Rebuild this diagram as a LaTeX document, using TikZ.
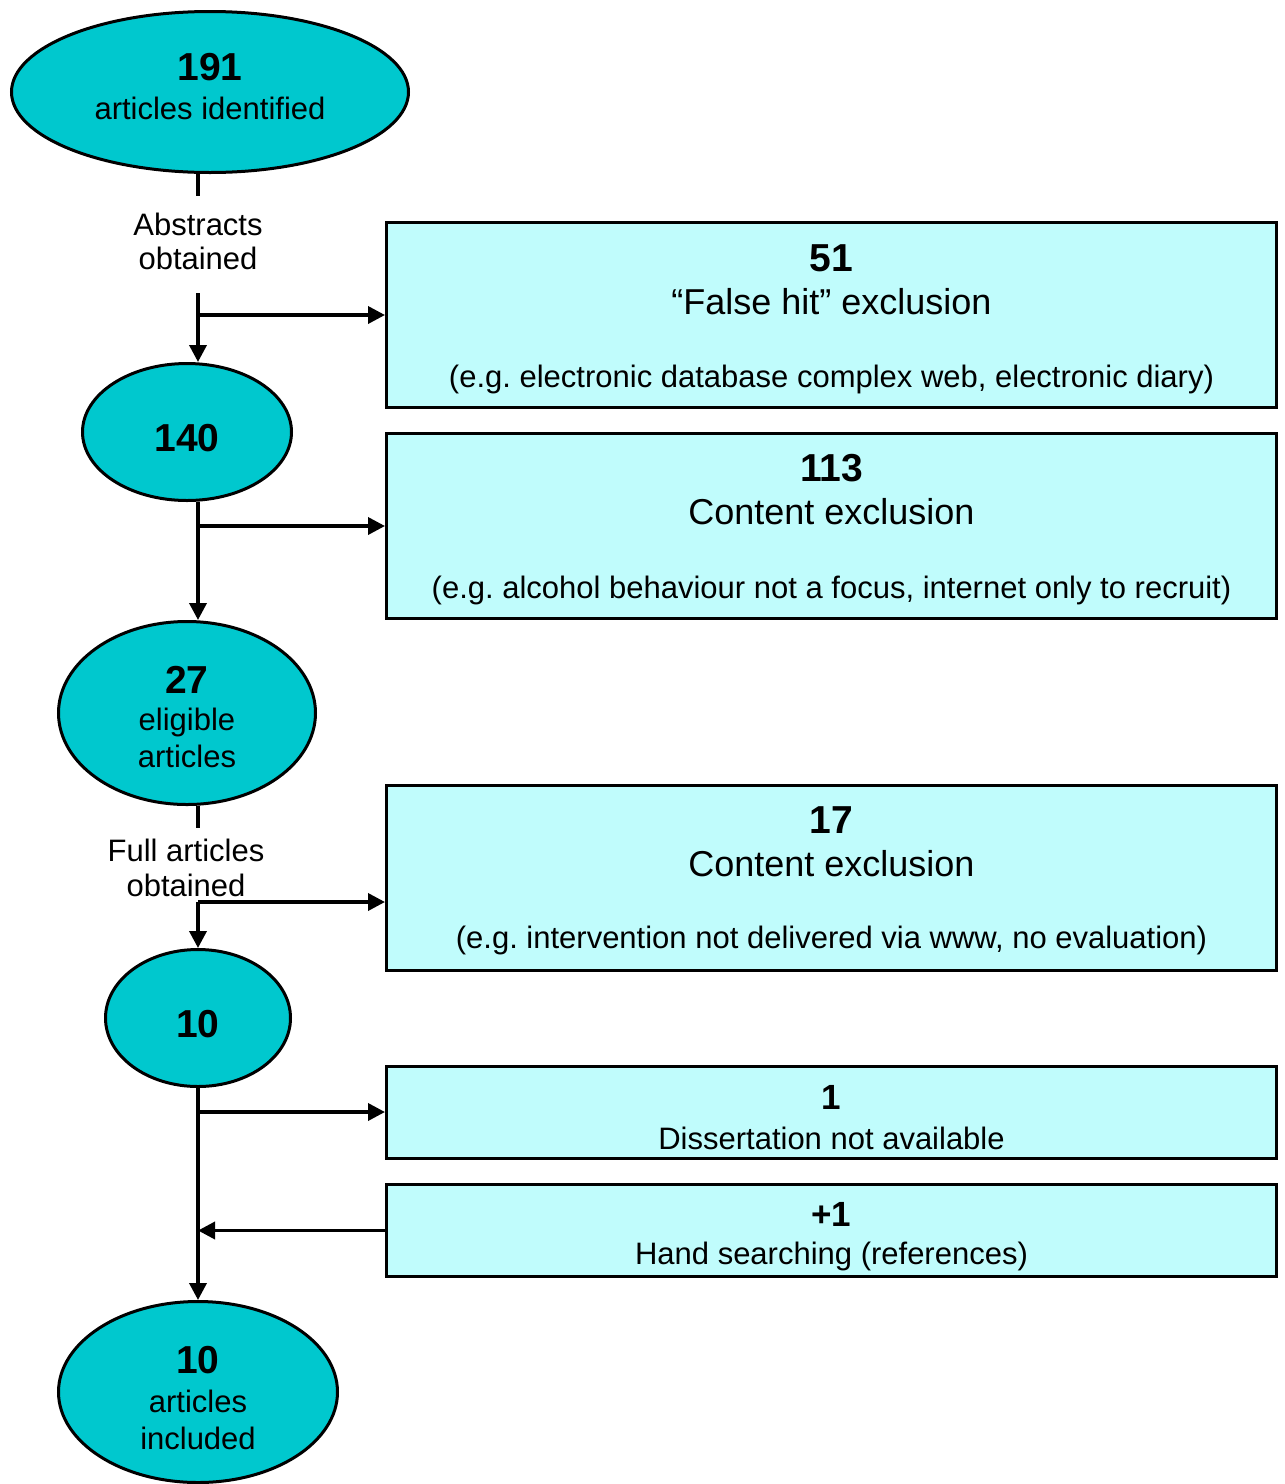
\documentclass[tikz,border=0pt]{standalone}
\usepackage{fontspec}
\setmainfont{Liberation Sans}
\frenchspacing
\usetikzlibrary{shapes.geometric,arrows.meta}
\definecolor{ellfill}{RGB}{0,200,206}
\definecolor{boxfill}{RGB}{192,252,252}
\tikzset{
  ell/.style={ellipse, draw=black, line width=3pt, fill=ellfill, inner sep=0pt},
  exbox/.style={rectangle, draw=black, line width=3pt, fill=boxfill, inner sep=0pt,
    minimum width=890pt},
  tallbox/.style={exbox, minimum height=185pt},
  lowbox/.style={exbox, minimum height=92pt},
  elltext/.style={inner sep=0pt, align=center, font=\fontsize{31}{37}\selectfont},
  tallboxtext/.style={inner sep=0pt, align=center, font=\fontsize{36}{43}\selectfont},
  lowboxtext/.style={inner sep=0pt, align=center, font=\fontsize{31}{38}\selectfont},
  steplabel/.style={inner sep=0pt, align=center, font=\fontsize{31}{34}\selectfont},
  conn/.style={line width=3.6pt, -{Triangle[length=17pt,width=17pt]}},
  plainline/.style={line width=3.6pt},
}
\newcommand{\bnum}[1]{{\fontsize{39}{39}\selectfont\bfseries #1}}
\newcommand{\snum}[1]{{\fontsize{35}{35}\selectfont\bfseries #1}}
\newcommand{\egline}[1]{{\fontsize{31}{36}\selectfont #1}}
\begin{document}
\begin{tikzpicture}[x=1pt,y=-1pt]
\useasboundingbox (0,0) rectangle (1285,1484);
\coordinate (spine) at (198,0);
% ellipses
\node[ell, minimum width=397pt, minimum height=161pt] (e1) at (210,92) {};
\node[elltext] (t1) at ([yshift=5pt]e1.center) {\bnum{191}\\[2pt]articles identified};
\node[ell, minimum width=209pt, minimum height=137pt] (e2) at (187,432) {};
\node[elltext] (t2) at ([yshift=-6pt]e2.center) {\bnum{140}};
\node[ell, minimum width=257pt, minimum height=183pt] (e3) at (187,713) {};
\node[elltext] (t3) at ([yshift=-4pt]e3.center) {\bnum{27}\\eligible\\articles};
\node[ell, minimum width=185pt, minimum height=137pt] (e4) at (198,1018) {};
\node[elltext] (t4) at ([yshift=-6pt]e4.center) {\bnum{10}};
\node[ell, minimum width=279pt, minimum height=181pt] (e5) at (198,1392) {};
\node[elltext] (t5) at ([yshift=-6pt]e5.center) {\bnum{10}\\[2pt]articles\\included};
% labels
\node[steplabel, minimum height=97pt] (lab1) at (198,244.5) {};
\node[steplabel] (lab1t) at ([yshift=3pt]lab1.center) {Abstracts\\obtained};
\node[steplabel, minimum height=74pt] (lab2) at (186,865) {};
\node[steplabel, font=\fontsize{31}{35}\selectfont] (lab2t) at ([yshift=-3pt]lab2.center) {Full articles\\obtained};
% boxes
\node[tallbox] (box1) at (831.5,315) {};
\node[tallboxtext] (bt1) at ([yshift=-4pt]box1.center)
  {\bnum{51}\\\textquotedblleft False hit\textquotedblright\ exclusion\\[30pt]\egline{(e.g. electronic database complex web, electronic diary)}};
\node[tallbox] (box2) at (831.5,526) {};
\node[tallboxtext] (bt2) at ([yshift=-4pt]box2.center)
  {\bnum{113}\\Content exclusion\\[31pt]\egline{(e.g. alcohol behaviour not a focus, internet only to recruit)}};
\node[tallbox] (box3) at (831.5,878) {};
\node[tallboxtext] (bt3) at ([yshift=-3pt]box3.center)
  {\bnum{17}\\Content exclusion\\[29pt]\egline{(e.g. intervention not delivered via www, no evaluation)}};
\node[lowbox] (box4) at (831.5,1112.5) {};
\node[lowboxtext, font=\fontsize{31}{40}\selectfont] (bt4) at ([yshift=-5pt]box4.center)
  {\snum{1}\\Dissertation not available};
\node[lowbox] (box5) at (831.5,1230.5) {};
\node[lowboxtext] (bt5) at ([yshift=-6pt]box5.center)
  {\snum{+1}\\Hand searching (references)};
% connectors
\coordinate (b1) at (198,315);
\coordinate (b2) at (198,526);
\coordinate (b3) at (198,902);
\coordinate (b4) at (198,1112);
\draw[plainline] (e1.south -| spine) -- (lab1.north);
\draw[conn] (lab1.south) -- (e2.north -| lab1.south);
\draw[conn] (b1) -- (b1 -| box1.west);
\draw[conn] (e2.south -| spine) -- (e3.north -| spine);
\draw[conn] (b2) -- (b2 -| box2.west);
\draw[plainline] (e3.south -| spine) -- (lab2.north -| spine);
\draw[conn] (b3) -- (e4.north);
\draw[conn] (b3) -- (b3 -| box3.west);
\draw[conn] (e4.south) -- (e5.north);
\draw[conn] (b4) -- (b4 -| box4.west);
\draw[conn] (box5.west) -- (box5.west -| spine);
\end{tikzpicture}
\end{document}
